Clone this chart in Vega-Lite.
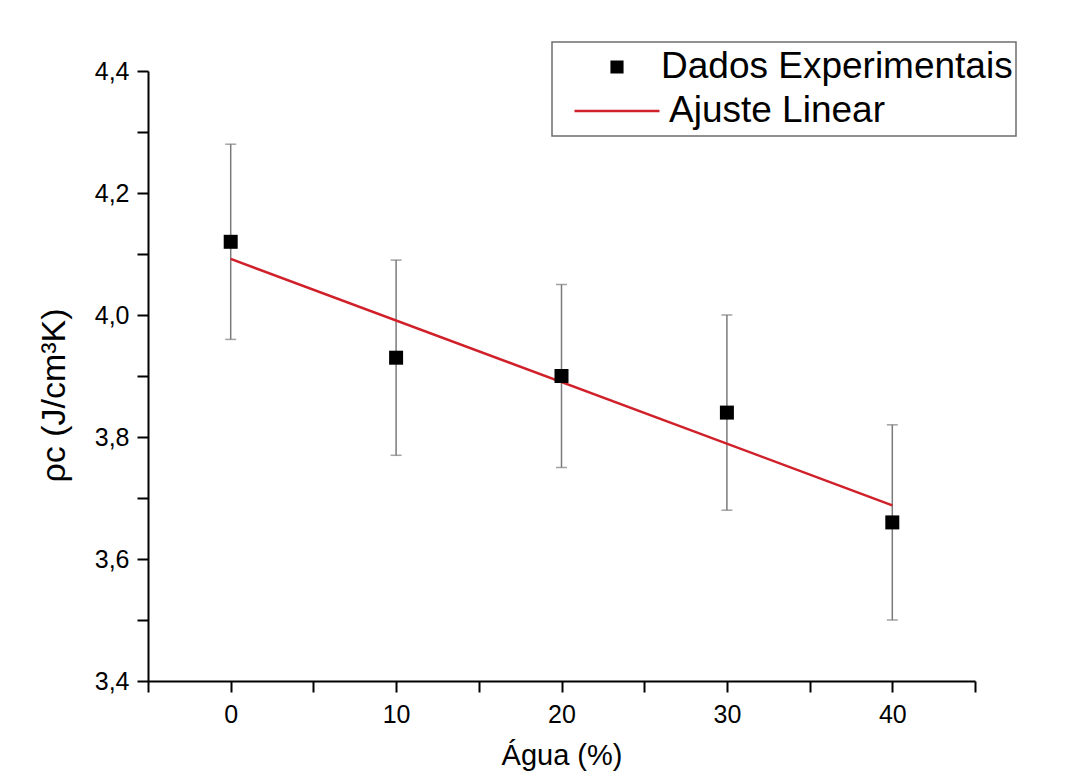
{
  "$schema": "https://vega.github.io/schema/vega-lite/v6.json",
  "width": 827,
  "height": 610,
  "autosize": "none",
  "padding": {"left": 148, "top": 71, "right": 103, "bottom": 97},
  "background": "white",
  "config": {
    "view": {"stroke": null},
    "axis": {
      "domainColor": "#000000",
      "domainWidth": 2,
      "tickColor": "#000000",
      "tickWidth": 2,
      "grid": false,
      "labelFont": "Liberation Sans",
      "labelFontSize": 25,
      "labelColor": "#000000",
      "titleFont": "Liberation Sans",
      "titleFontWeight": "normal",
      "titleColor": "#000000"
    },
    "legend": {"strokeWidth": 1.5}
  },
  "datasets": {
    "exp": [
      {"agua": 0, "rho": 4.12, "lo": 3.96, "hi": 4.28, "series": "Dados Experimentais"},
      {"agua": 10, "rho": 3.93, "lo": 3.77, "hi": 4.09, "series": "Dados Experimentais"},
      {"agua": 20, "rho": 3.90, "lo": 3.75, "hi": 4.05, "series": "Dados Experimentais"},
      {"agua": 30, "rho": 3.84, "lo": 3.68, "hi": 4.00, "series": "Dados Experimentais"},
      {"agua": 40, "rho": 3.66, "lo": 3.50, "hi": 3.82, "series": "Dados Experimentais"}
    ],
    "fit": [
      {"agua": 0, "rho": 4.092, "series": "Ajuste Linear"},
      {"agua": 40, "rho": 3.688, "series": "Ajuste Linear"}
    ]
  },
  "layer": [
    {
      "data": {"name": "exp"},
      "mark": {"type": "errorbar", "ticks": {"size": 11}, "color": "#7a7a7a", "thickness": 1.5},
      "encoding": {
        "x": {
          "field": "agua", "type": "quantitative",
          "scale": {"domain": [-5, 45], "nice": false, "zero": false},
          "axis": {
            "values": [-5, 0, 5, 10, 15, 20, 25, 30, 35, 40, 45],
            "tickSize": 11,
            "labelPadding": 10,
            "labelExpr": "datum.value % 10 === 0 ? format(datum.value, 'd') : ''",
            "title": "Água (%)",
            "titleFontSize": 29,
            "titleY": 83,
            "titleBaseline": "alphabetic",
            "encode": {"ticks": {"update": {"y2": {"signal": "datum.value % 10 === 0 ? 11 : 6"}}}}
          }
        },
        "y": {
          "field": "lo", "type": "quantitative",
          "scale": {"domain": [3.4, 4.4], "nice": false, "zero": false},
          "title": "ρc (J/cm³K)",
          "axis": {
            "values": [3.4, 3.5, 3.6, 3.7, 3.8, 3.9, 4.0, 4.1, 4.2, 4.3, 4.4],
            "tickSize": 11,
            "labelPadding": 8,
            "labelExpr": "round(datum.value * 10) % 2 === 0 ? replace(format(datum.value, '.1f'), '.', ',') : ''",
            "titleFontSize": 34,
            "titleX": -94,
            "titleY": 324,
            "titleAlign": "center",
            "titleBaseline": "middle",
            "encode": {"ticks": {"update": {"x2": {"signal": "round(datum.value * 10) % 2 === 0 ? -11 : -6"}}}}
          }
        },
        "y2": {"field": "hi"}
      }
    },
    {
      "data": {"name": "fit"},
      "mark": {"type": "line", "strokeWidth": 2.5},
      "encoding": {
        "x": {"field": "agua", "type": "quantitative"},
        "y": {"field": "rho", "type": "quantitative", "title": "ρc (J/cm³K)"},
        "color": {
          "field": "series", "type": "nominal",
          "scale": {"domain": ["Dados Experimentais", "Ajuste Linear"], "range": ["#000000", "#d0202a"]},
          "legend": {
            "title": null,
            "orient": "none",
            "legendX": 404,
            "legendY": -29,
            "direction": "vertical",
            "fillColor": "#ffffff",
            "strokeColor": "#6e6e6e",
            "padding": 3,
            "rowPadding": 0,
            "clipHeight": 44,
            "symbolType": "stroke",
            "symbolSize": 7225,
            "symbolStrokeWidth": 2.5,
            "symbolOffset": 18,
            "labelOffset": 0,
            "labelFont": "Liberation Sans",
            "labelFontSize": 37,
            "labelColor": "#000000",
            "labelLimit": 700,
            "labelExpr": "datum.label + '\u00a0'",
            "encode": {
              "symbols": {"update": {
                "shape": {"signal": "datum.value === 'Ajuste Linear' ? 'stroke' : 'M-0.125,-0.125H0.125V0.125H-0.125Z'"},
                "fill": {"signal": "datum.value === 'Ajuste Linear' ? 'transparent' : '#000000'"},
                "stroke": {"signal": "datum.value === 'Ajuste Linear' ? '#d0202a' : '#000000'"},
                "opacity": {"value": 1}
              }},
              "labels": {"update": {"dx": {"signal": "datum.value === 'Ajuste Linear' ? 8 : 0"}}}
            }
          }
        }
      }
    },
    {
      "data": {"name": "exp"},
      "mark": {"type": "point", "shape": "square", "filled": true, "size": 196, "opacity": 1},
      "encoding": {
        "x": {"field": "agua", "type": "quantitative"},
        "y": {"field": "rho", "type": "quantitative", "title": "ρc (J/cm³K)"},
        "color": {"field": "series", "type": "nominal"}
      }
    }
  ]
}
